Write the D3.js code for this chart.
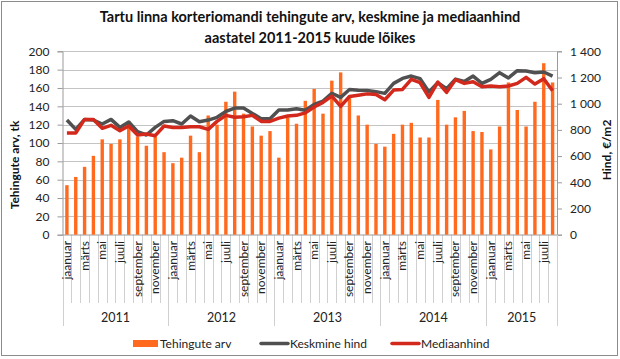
<!DOCTYPE html>
<html><head><meta charset="utf-8">
<script src="https://cdn.jsdelivr.net/npm/d3@7"></script>
<style>body{margin:0;background:#fff}svg{display:block;font-family:Lato,"Open Sans",sans-serif}</style>
</head><body><svg id="c" width="620" height="359"></svg>
<script>
const years = ["2011","2012","2013","2014","2015"];
const monthNames = ["jaanuar","veebruar","märts","aprill","mai","juuni","juuli","august","september","oktoober","november","detsember"];
const monthsPerYear = [12,12,12,12,8];
const tehingud = [54,63,74,86,104,99,104,124,107,97,107,90,
  78,84,108,90,130,120,145,156,132,118,108,113,
  84,128,121,146,159,132,168,177,150,130,120,99,
  96,110,120,122,106,106,147,120,128,135,113,112,
  93,118,166,136,118,145,187,166];
const keskmine = [875,804,880,875,845,880,819,860,786,761,819,865,
  870,845,906,862,875,896,941,967,967,926,885,885,
  952,952,962,950,995,1020,1080,1048,1108,1102,1100,1092,
  1079,1155,1193,1211,1191,1090,1160,1115,1188,1170,1211,1155,
  1186,1237,1196,1252,1249,1237,1242,1211];
const mediaan = [776,776,880,880,812,835,794,830,761,768,756,830,
  819,819,824,824,804,865,911,896,901,911,865,865,
  890,906,911,930,975,1010,1058,980,1055,1065,1075,1070,
  1030,1104,1109,1186,1160,1048,1165,1087,1183,1155,1168,1130,
  1135,1130,1135,1155,1201,1150,1191,1099];
const leftTicks = [0,20,40,60,80,100,120,140,160,180,200];
const rightTicks = [0,200,400,600,800,1000,1200,1400];
const seriesNames = ["Tehingute arv","Keskmine hind","Mediaanhind"];
const colors = {bar:"#ff6a1f", avg:"#505050", med:"#d2291c"};

// build month list
const months = [];
years.forEach((y,yi)=>{ for(let m=0;m<monthsPerYear[yi];m++) months.push({year:y, m, name:monthNames[m], i:months.length}); });

const svg = d3.select("#c");
svg.append("rect").attr("x",1.5).attr("y",1.5).attr("width",616).attr("height",354)
  .attr("fill","#fff").attr("stroke","#8c8c8c").attr("stroke-width",1);

const L=62.5, R=557, T=51.3, B=234.7;
const x = d3.scaleBand().domain(months.map(d=>d.i)).range([L,R]).padding(0);
const yL = d3.scaleLinear().domain([0,200]).range([B,T]);
const yR = d3.scaleLinear().domain([0,1400]).range([B,T]);

// gridlines
svg.append("g").selectAll("line").data(leftTicks.filter(d=>d>0)).join("line")
  .attr("x1",L).attr("x2",R).attr("y1",d=>Math.round(yL(d))+0.5).attr("y2",d=>Math.round(yL(d))+0.5)
  .attr("stroke","#c4c4c4").attr("stroke-width",1);

// left axis
const gL = svg.append("g").attr("transform",`translate(${L},0)`)
  .call(d3.axisLeft(yL).tickValues(leftTicks).tickSize(5).tickPadding(8).tickFormat(d3.format("d")));
gL.select(".domain").attr("stroke","#9a9a9a");
gL.selectAll(".tick line").attr("stroke","#9a9a9a");
gL.selectAll("text").attr("font-size",12).attr("fill","#222").attr("font-family","Lato");

// right axis
const gR = svg.append("g").attr("transform",`translate(${R},0)`)
  .call(d3.axisRight(yR).tickValues(rightTicks).tickSize(5).tickPadding(8)
    .tickFormat(d=>d3.format(",")(d).replace(/,/g," ")));
gR.select(".domain").attr("stroke","#9a9a9a");
gR.selectAll(".tick line").attr("stroke","#9a9a9a");
gR.selectAll("text").attr("font-size",12).attr("fill","#222").attr("font-family","Lato");

// bottom category axis: month separators
const bw = x.bandwidth();
const sep = svg.append("g");
months.forEach(d=>{
  const xx = Math.round(x(d.i))+0.5;
  const isYear = d.m===0;
  sep.append("line").attr("x1",xx).attr("x2",xx).attr("y1",B).attr("y2",isYear?326:303)
    .attr("stroke","#d0d0d0");
});
sep.append("line").attr("x1",Math.round(R)+0.5).attr("x2",Math.round(R)+0.5).attr("y1",B).attr("y2",326).attr("stroke","#d0d0d0");
svg.append("line").attr("x1",L).attr("x2",R).attr("y1",B+0.3).attr("y2",B+0.3).attr("stroke","#9a9a9a");

// month labels
svg.append("g").selectAll("text").data(months.filter(d=>d.m%2===0)).join("text")
  .attr("transform",d=>`translate(${x(d.i)+bw/2+4},241) rotate(-90)`)
  .attr("text-anchor","end").attr("font-size",12).attr("fill","#222").text(d=>d.name);

// year labels
let start=0;
years.forEach((y,yi)=>{
  const a=x(start), b=x(start+monthsPerYear[yi]-1)+bw;
  svg.append("text").attr("x",(a+b)/2).attr("y",322).attr("text-anchor","middle")
    .attr("font-size",12.5).attr("fill","#222").text(y);
  start+=monthsPerYear[yi];
});

// bars
const barW = 3.4;
svg.append("g").selectAll("rect").data(tehingud).join("rect")
  .attr("x",(d,i)=>x(i)+bw/2-barW/2).attr("width",barW)
  .attr("y",d=>yL(d)).attr("height",d=>B-yL(d)).attr("fill",colors.bar);

// lines
const line = d3.line().x((d,i)=>x(i)+bw/2).y(d=>yR(d));
svg.append("path").datum(keskmine).attr("d",line).attr("fill","none")
  .attr("stroke",colors.avg).attr("stroke-width",3.5).attr("stroke-linejoin","round");
svg.append("path").datum(mediaan).attr("d",line).attr("fill","none")
  .attr("stroke",colors.med).attr("stroke-width",3.5).attr("stroke-linejoin","round");

// axis titles
svg.append("text").attr("transform","translate(19,165) rotate(-90)").attr("text-anchor","middle")
  .attr("font-size",12).attr("font-weight","bold").attr("fill","#111").text("Tehingute arv, tk");
svg.append("text").attr("transform","translate(611,150) rotate(-90)").attr("text-anchor","middle")
  .attr("font-size",12).attr("font-weight","bold").attr("fill","#111").text("Hind, €/m2");

// title
svg.append("text").attr("x",310).attr("y",22).attr("text-anchor","middle").attr("font-size",14.5)
  .attr("font-weight","bold").attr("fill","#111").text("Tartu linna korteriomandi tehingute arv, keskmine ja mediaanhind");
svg.append("text").attr("x",310).attr("y",43).attr("text-anchor","middle").attr("font-size",14.5)
  .attr("font-weight","bold").attr("fill","#111").text("aastatel 2011-2015 kuude lõikes");

// legend
const lg = svg.append("g").attr("font-size",12).attr("fill","#222");
lg.append("rect").attr("x",133).attr("y",340).attr("width",25).attr("height",7).attr("fill",colors.bar);
lg.append("text").attr("x",160).attr("y",348).text(seriesNames[0]);
lg.append("line").attr("x1",261).attr("x2",288).attr("y1",343.5).attr("y2",343.5).attr("stroke",colors.avg).attr("stroke-width",3.5).attr("stroke-linecap","round");
lg.append("text").attr("x",290).attr("y",348).text(seriesNames[1]);
lg.append("line").attr("x1",392).attr("x2",419).attr("y1",343.5).attr("y2",343.5).attr("stroke",colors.med).attr("stroke-width",3.5).attr("stroke-linecap","round");
lg.append("text").attr("x",421).attr("y",348).text(seriesNames[2]);
</script></body></html>
